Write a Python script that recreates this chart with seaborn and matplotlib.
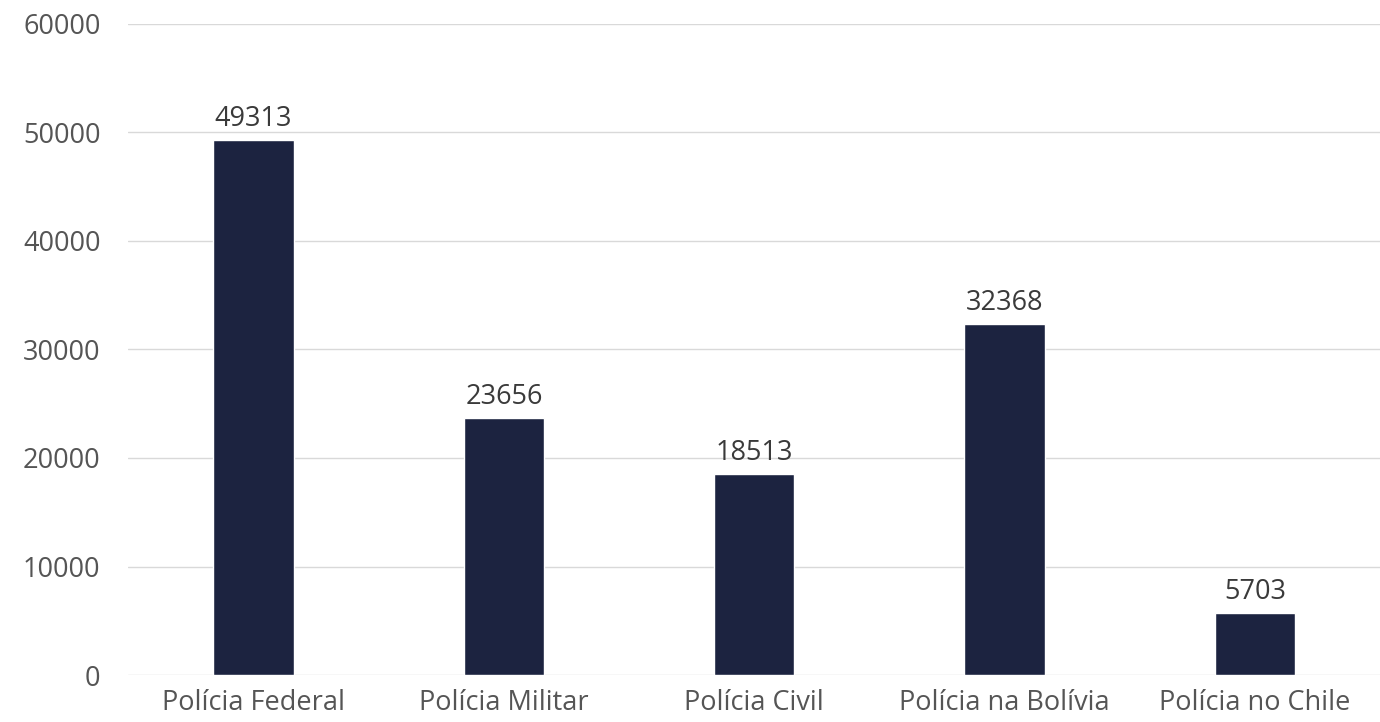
import matplotlib
matplotlib.use("Agg")
import matplotlib.pyplot as plt
import seaborn as sns
import pandas as pd

# Data
categories = ["Polícia Federal", "Polícia Militar", "Polícia Civil",
              "Polícia na Bolívia", "Polícia no Chile"]
values = [49313, 23656, 18513, 32368, 5703]
y_ticks = [0, 10000, 20000, 30000, 40000, 50000, 60000]

BAR_COLOR = "#1c2340"
TEXT_COLOR = "#555555"

sns.set_style("white")
plt.rcParams["font.family"] = ["Open Sans", "DejaVu Sans"]

df = pd.DataFrame({"categoria": categories, "valor": values})

fig = plt.figure(figsize=(13.8, 7.22), dpi=100)
ax = fig.add_axes([0.093, 0.065, 0.907, 0.902])

sns.barplot(data=df, x="categoria", y="valor", color=BAR_COLOR,
            width=0.32, saturation=1, ax=ax, zorder=3)

ax.set_ylim(0, 60000)
ax.set_yticks(y_ticks)
ax.set_yticklabels([str(t) for t in y_ticks])
ax.yaxis.grid(True, color="#d9d9d9", linewidth=1, zorder=0)
ax.set_xlabel("")
ax.set_ylabel("")
for s in ax.spines.values():
    s.set_visible(False)
ax.tick_params(axis="y", length=0, pad=20, labelsize=19.5, labelcolor=TEXT_COLOR)
ax.tick_params(axis="x", length=0, pad=10, labelsize=19.5, labelcolor=TEXT_COLOR)

for i, v in enumerate(values):
    ax.annotate(str(v), (i, v), xytext=(0, 5), textcoords="offset points",
                ha="center", va="bottom", fontsize=19.5, color="#3a3a3a")

fig.savefig("out.png", dpi=100)
